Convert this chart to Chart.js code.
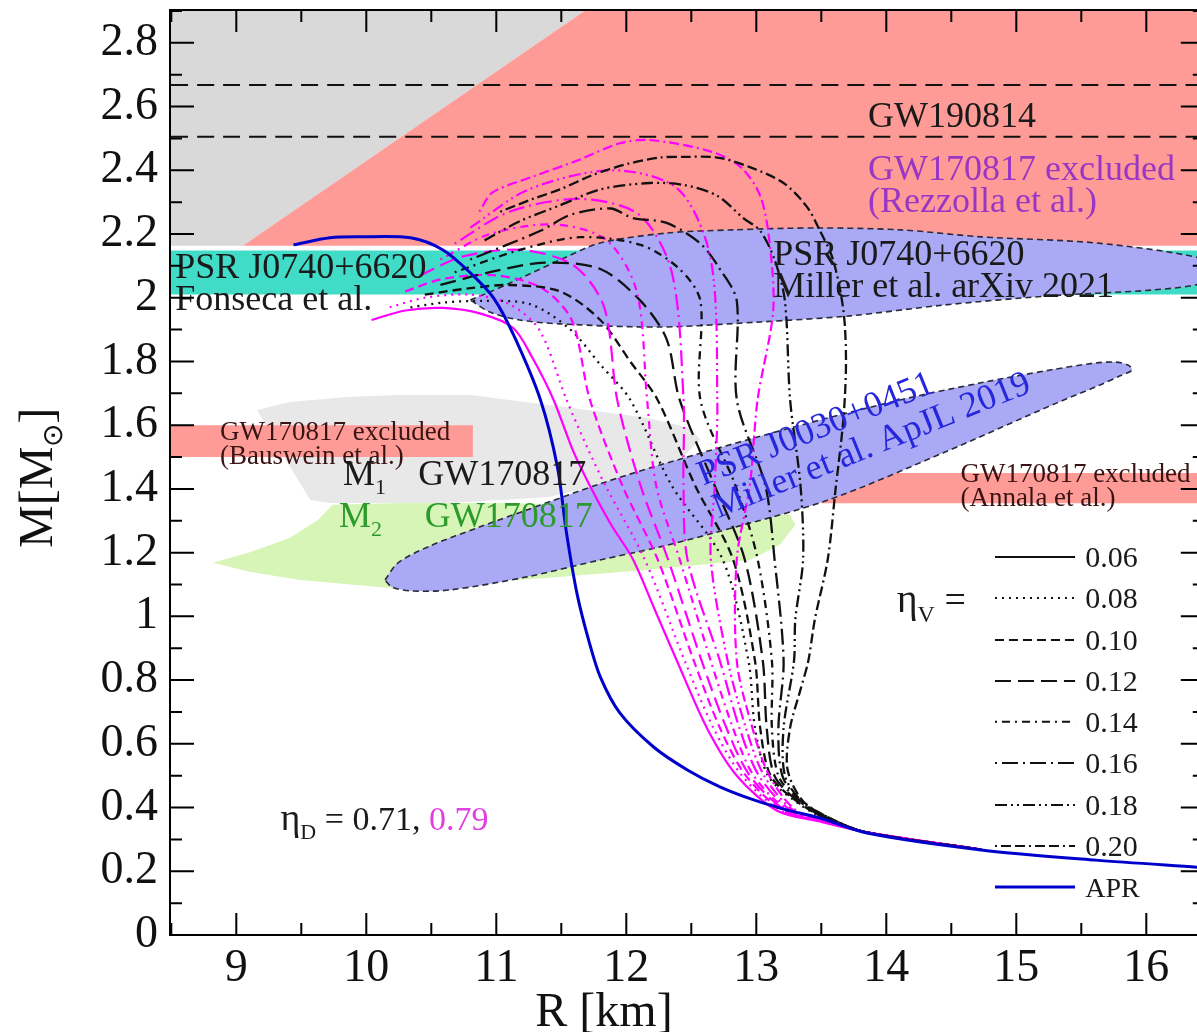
<!DOCTYPE html>
<html>
<head>
<title>Mass-radius curves</title>
<script src="https://cdn.jsdelivr.net/npm/chart.js@4.4.0/dist/chart.umd.min.js"></script>
<style>
    body { margin: 0; background: #fff; }
    .wrap { width: 1197px; height: 1032px; position: relative; }
</style>
</head>
<body>
<div class="wrap"><canvas id="mr"></canvas></div>
<script>
// ---- data: [R (km), M (Msun)] pairs ----
const etaV = ['0.06', '0.08', '0.10', '0.12', '0.14', '0.16', '0.18', '0.20'];
const gw190814 = [2.505, 2.668];

const apr = [[9.44,2.166],[9.72,2.188],[9.95,2.191],[10.34,2.188],[10.59,2.150],[10.80,2.078],[10.98,1.999],[11.14,1.877],[11.34,1.679],[11.47,1.469],[11.54,1.262],[11.62,1.073],[11.71,0.926],[11.80,0.810],[11.95,0.697],[12.21,0.590],[12.47,0.518],[12.72,0.465],[12.98,0.424],[13.24,0.392],[13.49,0.367],[13.85,0.320],[14.73,0.267],[15.61,0.235],[16.39,0.213]];

// eta_D = 0.79 (magenta)
const mag006 = [[10.04,1.93],[10.30,1.960],[10.59,1.968],[10.88,1.950],[11.13,1.905],[11.28,1.81],[11.44,1.68],[11.59,1.52],[11.72,1.41],[11.88,1.29],[12.05,1.18],[12.22,1.02],[12.39,0.86],[12.62,0.65],[12.85,0.50],[13.16,0.39],[13.50,0.355],[13.85,0.322],[14.73,0.268]];
const mag008 = [[10.18,1.97],[10.45,2.0],[10.80,2.01],[11.10,1.98],[11.33,1.90],[11.54,1.68],[11.70,1.53],[11.84,1.41],[12.14,1.18],[12.45,0.86],[12.67,0.65],[12.89,0.50],[13.19,0.39],[13.52,0.355],[13.85,0.322],[14.73,0.268]];
const mag010 = [[10.30,2.02],[10.60,2.06],[11.00,2.07],[11.35,2.03],[11.58,1.93],[11.72,1.68],[11.97,1.41],[12.24,1.18],[12.52,0.86],[12.72,0.65],[12.92,0.50],[13.21,0.39],[13.55,0.353],[13.85,0.322],[14.73,0.268]];
const mag012 = [[10.41,2.07],[10.75,2.13],[11.20,2.15],[11.60,2.10],[11.83,1.97],[11.93,1.68],[12.11,1.41],[12.32,1.18],[12.58,0.86],[12.77,0.65],[12.95,0.50],[13.23,0.39],[13.57,0.352],[13.85,0.322],[14.73,0.268]];
const mag014 = [[10.57,2.12],[10.95,2.20],[11.45,2.23],[11.85,2.18],[12.08,2.02],[12.16,1.68],[12.23,1.41],[12.41,1.18],[12.65,0.86],[12.82,0.65],[12.98,0.50],[13.25,0.39],[13.58,0.352],[13.85,0.322],[14.73,0.268]];
const mag016 = [[10.68,2.17],[11.10,2.27],[11.65,2.31],[12.10,2.26],[12.35,2.08],[12.44,1.68],[12.44,1.41],[12.47,1.18],[12.72,0.86],[12.87,0.65],[13.02,0.50],[13.27,0.39],[13.60,0.35],[13.85,0.322],[14.73,0.268]];
const mag018 = [[10.80,2.22],[11.25,2.34],[11.90,2.40],[12.40,2.34],[12.65,2.12],[12.70,1.68],[12.68,1.41],[12.65,1.18],[12.78,0.86],[12.92,0.65],[13.06,0.50],[13.29,0.39],[13.62,0.35],[13.85,0.322],[14.73,0.268]];
const mag020 = [[10.87,2.27],[10.97,2.33],[11.28,2.38],[11.62,2.43],[11.95,2.485],[12.18,2.495],[12.64,2.46],[12.88,2.41],[13.03,2.32],[13.10,2.18],[13.13,1.96],[13.01,1.68],[12.95,1.41],[12.85,1.18],[12.85,0.86],[12.97,0.65],[13.10,0.50],[13.31,0.39],[13.63,0.35],[13.85,0.322],[14.73,0.268]];

// eta_D = 0.71 (black)
const blk008 = [[10.34,1.97],[10.60,1.985],[10.88,1.99],[11.26,1.98],[11.57,1.90],[11.80,1.79],[12.03,1.68],[12.35,1.41],[12.74,1.18],[12.94,0.86],[12.99,0.65],[13.09,0.50],[13.30,0.42],[13.55,0.36],[13.85,0.322],[14.73,0.268]];
const blk010 = [[10.45,2.01],[10.80,2.03],[11.10,2.04],[11.49,2.02],[11.80,1.93],[12.03,1.80],[12.24,1.68],[12.53,1.41],[12.82,1.18],[12.99,0.86],[13.03,0.65],[13.11,0.50],[13.31,0.42],[13.56,0.36],[13.85,0.322],[14.73,0.268]];
const blk012 = [[10.57,2.04],[10.95,2.08],[11.37,2.11],[11.80,2.09],[12.11,1.99],[12.31,1.87],[12.41,1.68],[12.68,1.41],[12.91,1.18],[13.05,0.86],[13.08,0.65],[13.14,0.50],[13.32,0.42],[13.57,0.36],[13.85,0.322],[14.73,0.268]];
const blk014 = [[10.68,2.08],[11.18,2.15],[11.64,2.19],[12.11,2.166],[12.41,2.09],[12.57,1.99],[12.57,1.68],[12.84,1.41],[13.01,1.18],[13.12,0.86],[13.12,0.65],[13.17,0.50],[13.33,0.42],[13.58,0.36],[13.85,0.322],[14.73,0.268]];
const blk016 = [[10.80,2.12],[11.34,2.21],[11.57,2.26],[11.88,2.28],[12.05,2.25],[12.31,2.235],[12.57,2.17],[12.72,2.09],[12.85,1.99],[12.85,1.68],[13.07,1.41],[13.14,1.18],[13.21,0.86],[13.17,0.65],[13.20,0.50],[13.34,0.42],[13.59,0.36],[13.85,0.322],[14.73,0.268]];
const blk018 = [[10.91,2.18],[11.18,2.24],[11.49,2.29],[11.80,2.34],[12.18,2.36],[12.44,2.354],[12.70,2.32],[12.90,2.25],[13.03,2.21],[13.14,2.12],[13.22,1.99],[13.26,1.68],[13.34,1.41],[13.36,1.18],[13.30,0.99],[13.29,0.86],[13.21,0.65],[13.22,0.50],[13.35,0.42],[13.60,0.36],[13.85,0.322],[14.73,0.268]];
const blk020 = [[11.03,2.27],[11.28,2.31],[11.49,2.34],[11.74,2.385],[12.01,2.42],[12.26,2.44],[12.44,2.442],[12.70,2.44],[12.95,2.41],[13.21,2.36],[13.39,2.285],[13.49,2.21],[13.59,2.12],[13.67,1.96],[13.69,1.80],[13.67,1.62],[13.61,1.40],[13.55,1.18],[13.45,0.99],[13.40,0.86],[13.34,0.77],[13.26,0.65],[13.24,0.52],[13.36,0.42],[13.60,0.36],[13.85,0.322],[14.73,0.268]];

// constraint regions
const causalGray = [[8.3,2.163],[9.05,2.163],[11.75,2.92],[8.3,2.92]];
const rezzollaBand = [[9.05,2.163],[11.75,2.92],[16.6,2.92],[16.6,2.163]];
const fonsecaBand = [[8.3,2.01],[16.6,2.01],[16.6,2.148],[8.3,2.148]];
const baussweinBand = [[8.3,1.50],[10.82,1.50],[10.82,1.60],[8.3,1.60]];
const annalaBand = [[13.5,1.355],[16.6,1.355],[16.6,1.45],[13.5,1.45]];
const gwM1 = [[9.16,1.648],[9.41,1.673],[9.88,1.689],[10.26,1.695],[10.80,1.695],[11.39,1.664],[12.16,1.623],[12.49,1.591],[12.57,1.554],[12.41,1.491],[11.95,1.428],[11.41,1.375],[10.64,1.356],[9.72,1.356],[9.57,1.365],[9.38,1.491]];
const gwM2 = [[8.82,1.168],[9.11,1.202],[9.41,1.246],[9.63,1.303],[9.74,1.350],[10.26,1.356],[11.03,1.356],[11.80,1.350],[12.57,1.340],[13.03,1.334],[13.26,1.318],[13.30,1.287],[13.18,1.224],[12.95,1.177],[12.18,1.146],[11.41,1.121],[10.64,1.099],[10.18,1.089],[9.49,1.114],[9.11,1.139],[8.82,1.168]];
const millerJ0740 = [[10.80,1.993],[10.95,2.018],[11.105,2.046],[11.54,2.128],[11.80,2.172],[12.31,2.203],[12.82,2.213],[13.47,2.219],[14.11,2.213],[14.73,2.191],[15.61,2.172],[16.41,2.125],[16.6,2.08],[16.41,2.043],[16.04,2.024],[15.26,2.006],[14.44,1.977],[13.72,1.943],[13.03,1.924],[12.26,1.908],[11.49,1.918],[11.18,1.930],[10.95,1.955],[10.80,1.993]];
const millerJ0030 = [[10.144,1.114],[10.244,1.168],[10.49,1.221],[10.875,1.281],[11.236,1.334],[11.798,1.416],[12.259,1.475],[13.259,1.591],[14.105,1.679],[14.728,1.733],[15.259,1.773],[15.605,1.795],[15.759,1.798],[15.859,1.789],[15.89,1.773],[15.798,1.755],[15.644,1.726],[15.313,1.670],[14.436,1.513],[13.552,1.365],[12.675,1.262],[12.259,1.218],[11.798,1.177],[11.236,1.124],[10.644,1.083],[10.336,1.080],[10.198,1.092],[10.144,1.114]];

// ---- styles ----
const serif = "'Liberation Serif', 'Times New Roman', serif";
const dashes = [[], [2, 5], [9, 5], [16, 7], [2, 5, 8, 5], [2, 5, 16, 5], [12, 4, 2, 4, 2, 4], [2, 4, 10, 4, 10, 4]];
const MAGENTA = '#ff00ff';
const SALMON = '#ff9b97';

const toXY = a => a.map(([x, y]) => ({x: x, y: y}));

function patch(data, color, edge) {
    return {
        data: toXY(data), fill: 'shape', backgroundColor: color,
        borderColor: edge ? '#2a2a3a' : 'rgba(0,0,0,0)', borderWidth: edge ? 1.6 : 1,
        borderDash: edge ? [6, 4] : [], tension: edge ? 0.3 : 0, pointRadius: 0
    };
}
function curve(data, color, dash, width) {
    return {
        data: toXY(data), fill: false, borderColor: color, borderWidth: width,
        borderDash: dash, tension: 0.3, pointRadius: 0
    };
}

const magenta = [mag006, mag008, mag010, mag012, mag014, mag016, mag018, mag020];
const black = [null, blk008, blk010, blk012, blk014, blk016, blk018, blk020];

const datasets = [
    patch(causalGray, '#d9d9d9'),
    patch(rezzollaBand, SALMON),
    patch(fonsecaBand, '#40dcc8'),
    patch(gwM1, '#e8e8e8'),
    patch(gwM2, '#d8f5b8'),
    patch(baussweinBand, SALMON),
    patch(annalaBand, SALMON),
    patch(millerJ0740, '#a9a9f6', true),
    patch(millerJ0030, '#a9a9f6', true)
];
gw190814.forEach(m => datasets.push(curve([[8.3, m], [16.6, m]], '#111', [17, 9], 2)));
for (let i = 0; i < 8; i++) {
    datasets.push(curve(magenta[i], MAGENTA, dashes[i], 2.2));
    if (black[i]) datasets.push(curve(black[i], '#111', dashes[i], 2.3));
}
datasets.push(curve(apr, '#0000cc', [], 3));
datasets.forEach((d, i) => { d.order = datasets.length - i; });

// ---- text placed in data coordinates ----
const notes = [
    { lines: ['GW190814'], r: 13.86, m: 2.536, size: 36, color: '#1a1a1a' },
    { lines: ['GW170817 excluded', '(Rezzolla et al.)'], r: 13.86, m: 2.37, size: 36, color: '#9a36c4' },
    { lines: ['PSR J0740+6620', 'Miller et al. arXiv 2021'], r: 13.13, m: 2.103, size: 36, color: '#1a1a1a' },
    { lines: ['PSR J0740+6620', 'Fonseca et al.'], r: 8.53, m: 2.062, size: 36, color: '#1a1a1a' },
    { lines: ['GW170817 excluded', '(Bauswein et al.)'], r: 8.875, m: 1.554, size: 27, color: '#3a1414' },
    { lines: ['GW170817 excluded', '(Annala et al.)'], r: 14.57, m: 1.422, size: 27, color: '#3a1414' },
    { lines: ['GW170817'], r: 10.40, m: 1.412, size: 36, color: '#1a1a1a' },
    { lines: ['GW170817'], r: 10.45, m: 1.28, size: 36, color: '#2c9a2c' }
];
const legendRows = [1.186, 1.058, 0.926, 0.797, 0.669, 0.540, 0.408, 0.279, 0.151];

function runs(ctx, parts, x, y) {
    let cx = x;
    for (const p of parts) {
        ctx.font = p.size + 'px ' + serif;
        ctx.fillStyle = p.color || '#1a1a1a';
        ctx.fillText(p.t, cx, y + (p.dy || 0));
        cx += ctx.measureText(p.t).width;
    }
}

const decor = {
    id: 'decor',
    afterDatasetsDraw(chart) {
        const {ctx, chartArea: a, scales: {x, y}} = chart;
        const px = v => x.getPixelForValue(v);
        const py = v => y.getPixelForValue(v);
        const right = px(16.45);
        ctx.save();
        ctx.textBaseline = 'alphabetic';
        ctx.textAlign = 'left';

        // notes
        for (const n of notes) {
            ctx.font = n.size + 'px ' + serif;
            ctx.fillStyle = n.color;
            const lh = Math.round(n.size * 0.9);
            n.lines.forEach((t, i) => ctx.fillText(t, px(n.r), py(n.m) + i * lh));
        }
        runs(ctx, [{t: 'M', size: 36}, {t: '1', size: 22, dy: 9}], px(9.82), py(1.412));
        runs(ctx, [{t: 'M', size: 36, color: '#2c9a2c'}, {t: '2', size: 22, dy: 9, color: '#2c9a2c'}], px(9.79), py(1.28));
        runs(ctx, [{t: 'η', size: 38}, {t: 'D', size: 22, dy: 9}, {t: ' = 0.71, ', size: 34}, {t: '0.79', size: 34, color: '#e040e0'}], px(9.34), py(0.33));
        runs(ctx, [{t: 'η', size: 40}, {t: 'V', size: 24, dy: 10}, {t: ' =', size: 38}], px(14.08), py(1.014));

        // rotated PSR J0030 label
        ctx.save();
        ctx.translate(px(12.59), py(1.41));
        ctx.rotate(-22 * Math.PI / 180);
        ctx.font = '36px ' + serif;
        ctx.fillStyle = '#2626dd';
        ctx.fillText('PSR J0030+0451', 0, 0);
        ctx.fillText('Miller et al. ApJL 2019', 2, 36);
        ctx.restore();

        // legend
        const l0 = px(14.836), l1 = px(15.452), lt = px(15.53);
        legendRows.forEach((m, i) => {
            const yy = py(m);
            ctx.beginPath();
            ctx.setLineDash(i < 8 ? dashes[i] : []);
            ctx.lineWidth = i < 8 ? 2 : 3;
            ctx.strokeStyle = i < 8 ? '#111' : '#0000cc';
            ctx.moveTo(l0, yy); ctx.lineTo(l1, yy); ctx.stroke();
            ctx.font = (i < 8 ? 30 : 28) + 'px ' + serif;
            ctx.fillStyle = '#1a1a1a';
            ctx.fillText(i < 8 ? etaV[i] : 'APR', lt, yy + 10);
        });
        ctx.setLineDash([]);

        // frame and inward ticks
        ctx.strokeStyle = '#000';
        ctx.lineWidth = 2;
        ctx.beginPath();
        ctx.moveTo(right, a.top); ctx.lineTo(a.left, a.top); ctx.lineTo(a.left, a.bottom); ctx.lineTo(right, a.bottom);
        ctx.stroke();
        ctx.beginPath();
        for (let k = Math.ceil(x.min * 2); k <= 32; k++) {
            const xx = px(k / 2), len = k % 2 === 0 ? 22 : 12;
            ctx.moveTo(xx, a.bottom); ctx.lineTo(xx, a.bottom - len);
            ctx.moveTo(xx, a.top); ctx.lineTo(xx, a.top + len);
        }
        for (let k = 1; k <= 29; k++) {
            const yy = py(k / 10), len = k % 2 === 0 ? 24 : 12;
            ctx.moveTo(a.left, yy); ctx.lineTo(a.left + len, yy);
            ctx.moveTo(right, yy); ctx.lineTo(right - len, yy);
        }
        ctx.stroke();

        // axis titles
        ctx.font = '48px ' + serif;
        ctx.fillStyle = '#111';
        ctx.textAlign = 'center';
        ctx.fillText('R [km]', 604, 1026);
        ctx.textAlign = 'left';
        ctx.save();
        ctx.translate(52, 548);
        ctx.rotate(-Math.PI / 2);
        runs(ctx, [{t: 'M[M', size: 48, color: '#111'}, {t: '⊙', size: 28, dy: 10, color: '#111'}, {t: ']', size: 48, color: '#111'}], 0, 0);
        ctx.restore();
        ctx.restore();
    }
};

new Chart(document.getElementById('mr'), {
    type: 'line',
    data: { datasets: datasets },
    options: {
        responsive: true,
        maintainAspectRatio: false,
        animation: false,
        devicePixelRatio: 1,
        layout: { padding: { top: 10, left: 0, right: 0, bottom: 0 } },
        plugins: { legend: { display: false }, tooltip: { enabled: false } },
        scales: {
            x: {
                type: 'linear', min: 8.49, max: 16.39,
                grid: { display: false, drawTicks: false }, border: { display: false },
                ticks: { stepSize: 1, includeBounds: false, autoSkip: false, maxRotation: 0, padding: 6,
                         color: '#111', font: { family: serif, size: 46 } },
                afterFit: s => { s.height = 97; s.paddingLeft = 0; s.paddingRight = 0; }
            },
            y: {
                type: 'linear', min: 0, max: 2.903,
                grid: { display: false, drawTicks: false }, border: { display: false },
                ticks: { stepSize: 0.2, includeBounds: false, autoSkip: false, padding: 12,
                         color: '#111', font: { family: serif, size: 46 },
                         callback: v => String(+v.toFixed(1)) },
                afterFit: s => { s.width = 170; s.paddingTop = 0; s.paddingBottom = 0; }
            }
        }
    },
    plugins: [decor]
});
</script>
</body>
</html>
